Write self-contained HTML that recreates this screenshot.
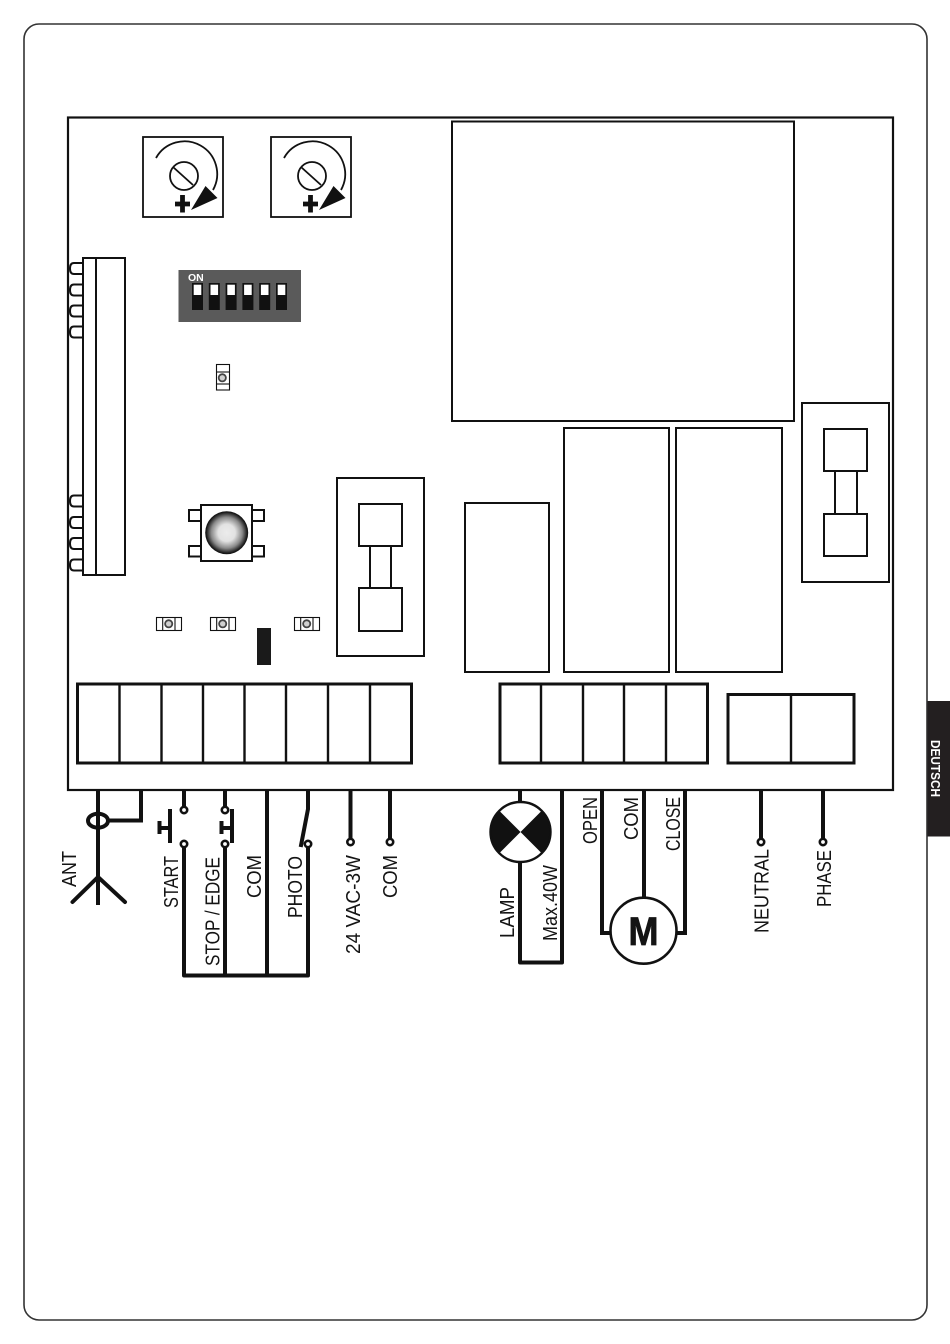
<!DOCTYPE html>
<html>
<head>
<meta charset="utf-8">
<style>
html,body{margin:0;padding:0;background:#fff;width:950px;height:1344px;overflow:hidden}
svg{display:block}
text{font-family:"Liberation Sans",sans-serif;fill:#141414}
</style>
</head>
<body>
<svg width="950" height="1344" viewBox="0 0 950 1344" xmlns="http://www.w3.org/2000/svg">
<defs>
<radialGradient id="btn" cx="50%" cy="50%" r="50%">
<stop offset="0" stop-color="#ececec"/>
<stop offset="0.4" stop-color="#e2e2e2"/>
<stop offset="0.72" stop-color="#8a8a8a"/>
<stop offset="0.95" stop-color="#1a1a1a"/>
<stop offset="1" stop-color="#111"/>
</radialGradient>
<g id="pot">
<rect x="143" y="137" width="80" height="80" fill="#fff" stroke="#111" stroke-width="1.800"/>
<circle cx="184" cy="176" r="14" fill="none" stroke="#111" stroke-width="1.800"/>
<line x1="173" y1="167" x2="193" y2="185" stroke="#111" stroke-width="1.800"/>
<path d="M156 158 A31 31 0 0 1 213 190" fill="none" stroke="#111" stroke-width="1.800"/>
<polygon points="191,210 205.500,186 217.500,198" fill="#111"/>
<path d="M182.500 195V212.500M175 204H190" stroke="#111" stroke-width="4.800" fill="none"/>
</g>
<g id="smallh" fill="none" stroke="#111" stroke-width="1.100">
<rect x="156.500" y="617.500" width="25" height="13" fill="#fff"/>
<line x1="162.700" y1="617.500" x2="162.700" y2="630.500"/>
<line x1="175" y1="617.500" x2="175" y2="630.500"/>
<circle cx="168.700" cy="623.800" r="3.600" fill="#d0d0d0" stroke="#444" stroke-width="1.800"/>
</g>
<g id="sw">
<rect x="192" y="283" width="11" height="27" fill="#111"/>
<rect x="193.700" y="284.700" width="7.600" height="10.300" fill="#fff"/>
</g>
<g id="loop">
<path d="M83 0H74Q70 0 70 5.500Q70 11 74 11H83" fill="#fff" stroke="#111" stroke-width="2"/>
</g>
</defs>

<!-- page frame -->
<rect x="24" y="24" width="903" height="1296" rx="15" ry="15" fill="#fff" stroke="#333" stroke-width="1.600"/>

<!-- side tab -->
<rect x="927.500" y="701" width="22.500" height="135.500" fill="#231f20"/>
<text transform="translate(931,740) rotate(90)" font-size="12.500" font-weight="bold" style="fill:#fff" textLength="57" lengthAdjust="spacingAndGlyphs">DEUTSCH</text>

<!-- board -->
<rect x="68" y="117.500" width="825" height="672.500" fill="#fff" stroke="#111" stroke-width="2.200"/>

<use href="#pot"/>
<use href="#pot" x="128"/>

<!-- dip switch -->
<rect x="178.500" y="270" width="122.500" height="52" fill="#5a5a5a"/>
<text x="188" y="281" font-size="10.500" font-weight="bold" style="fill:#fff">ON</text>
<use href="#sw"/>
<use href="#sw" x="16.800"/>
<use href="#sw" x="33.600"/>
<use href="#sw" x="50.400"/>
<use href="#sw" x="67.200"/>
<use href="#sw" x="84"/>

<!-- vertical small component -->
<g fill="none" stroke="#111" stroke-width="1.100">
<rect x="216.500" y="364.500" width="13" height="25.500" fill="#fff"/>
<line x1="216.500" y1="372" x2="229.500" y2="372"/>
<line x1="216.500" y1="384" x2="229.500" y2="384"/>
<circle cx="222.300" cy="377.800" r="3.600" fill="#d0d0d0" stroke="#444" stroke-width="1.800"/>
</g>

<!-- left connector -->
<use href="#loop" y="263"/>
<use href="#loop" y="284.500"/>
<use href="#loop" y="305.500"/>
<use href="#loop" y="326.500"/>
<use href="#loop" y="495.500"/>
<use href="#loop" y="517"/>
<use href="#loop" y="538"/>
<use href="#loop" y="559.500"/>
<rect x="83" y="258" width="42" height="317" fill="#fff" stroke="#111" stroke-width="2"/>
<line x1="96" y1="258" x2="96" y2="575" stroke="#111" stroke-width="2"/>

<!-- relays -->
<g fill="#fff" stroke="#111" stroke-width="2">
<rect x="452" y="121.500" width="342" height="299.500"/>
<rect x="564" y="428" width="105" height="244"/>
<rect x="676" y="428" width="106" height="244"/>
<rect x="465" y="503" width="84" height="169"/>
<!-- right fuse -->
<rect x="802" y="403" width="87" height="179"/>
<rect x="835" y="471" width="22" height="43"/>
<rect x="824" y="429" width="43" height="42"/>
<rect x="824" y="514" width="43" height="42"/>
<!-- left fuse -->
<rect x="337" y="478" width="87" height="178"/>
<rect x="370" y="546" width="21" height="42"/>
<rect x="359" y="504" width="43" height="42"/>
<rect x="359" y="588" width="43" height="43"/>
<!-- push button -->
<rect x="189" y="510" width="12" height="11"/>
<rect x="189" y="546" width="12" height="10.500"/>
<rect x="252" y="510" width="12" height="11"/>
<rect x="252" y="546" width="12" height="10.500"/>
<rect x="201" y="505" width="51" height="56"/>
</g>
<circle cx="226.700" cy="532.700" r="21.500" fill="url(#btn)"/>

<use href="#smallh"/>
<use href="#smallh" x="54"/>
<use href="#smallh" x="138"/>
<rect x="257" y="628" width="14" height="37" fill="#1a1a1a"/>

<!-- terminal blocks -->
<g fill="#fff" stroke="#111" stroke-width="3">
<rect x="77.500" y="684" width="334" height="79"/>
<rect x="500" y="684" width="207.500" height="79"/>
<rect x="728" y="694.500" width="126" height="68.500"/>
</g>
<g stroke="#111" stroke-width="2.400">
<path d="M119.500 684V763M161.500 684V763M203 684V763M244.500 684V763M286 684V763M328 684V763M370 684V763"/>
<path d="M541 684V763M583 684V763M624 684V763M666 684V763"/>
<path d="M791 694V763"/>
</g>

<!-- wiring left -->
<g fill="none" stroke="#111" stroke-width="4">
<line x1="98" y1="790" x2="98" y2="905"/>
<path d="M141 790V820.500H108"/>
<path d="M98 877L72.500 902M98 877L125 902" stroke-linecap="round"/>
<line x1="184" y1="790" x2="184" y2="806"/>
<line x1="225" y1="790" x2="225" y2="806"/>
<path d="M184 848V975.500H308V848" stroke-linejoin="round"/>
<line x1="225" y1="848" x2="225" y2="975"/>
<line x1="267" y1="790" x2="267" y2="975"/>
<path d="M308 790L308 809L300.700 847"/>
<line x1="350.500" y1="790" x2="350.500" y2="838"/>
<line x1="390" y1="790" x2="390" y2="838"/>
<path d="M170 809V843M159 828H170"/>
<path d="M232 809V843M221 828H232"/>
<path d="M159.500 821V834M221.500 821V834"/>
</g>
<ellipse cx="98" cy="820.700" rx="10" ry="7" fill="none" stroke="#111" stroke-width="4"/>
<g fill="#fff" stroke="#111" stroke-width="2.600">
<circle cx="184" cy="810" r="3.200"/>
<circle cx="184" cy="844" r="3.200"/>
<circle cx="225" cy="810" r="3.200"/>
<circle cx="225" cy="844" r="3.200"/>
<circle cx="308" cy="844" r="3.200"/>
<circle cx="350.500" cy="842" r="3.200"/>
<circle cx="390" cy="842" r="3.200"/>
<circle cx="761" cy="842" r="3.200"/>
<circle cx="823" cy="842" r="3.200"/>
</g>

<!-- wiring right -->
<g fill="none" stroke="#111" stroke-width="4">
<path d="M520 790V962.500H562V790" stroke-linejoin="round"/>
<path d="M602 790V933H611"/>
<line x1="644" y1="790" x2="644" y2="898"/>
<path d="M685 790V933H676"/>
<line x1="761" y1="790" x2="761" y2="838"/>
<line x1="823" y1="790" x2="823" y2="838"/>
</g>

<!-- lamp -->
<circle cx="520.500" cy="832" r="30" fill="#fff"/>
<path d="M520.500 832L499.300 810.800A30 30 0 0 0 499.300 853.200Z" fill="#111"/>
<path d="M520.500 832L541.700 810.800A30 30 0 0 1 541.700 853.200Z" fill="#111"/>
<circle cx="520.500" cy="832" r="30" fill="none" stroke="#111" stroke-width="2.400"/>

<!-- motor -->
<circle cx="643.500" cy="930.700" r="33" fill="#fff" stroke="#111" stroke-width="2.600"/>
<text x="643.500" y="945" font-size="40" font-weight="bold" text-anchor="middle" textLength="30" lengthAdjust="spacingAndGlyphs" stroke="#141414" stroke-width="0.800">M</text>

<!-- labels -->
<g font-size="20">
<text transform="translate(76,887) rotate(-90)" textLength="36" lengthAdjust="spacingAndGlyphs">ANT</text>
<text transform="translate(178,908) rotate(-90)" textLength="52" lengthAdjust="spacingAndGlyphs">START</text>
<text transform="translate(219.500,966) rotate(-90)" textLength="109" lengthAdjust="spacingAndGlyphs">STOP / EDGE</text>
<text transform="translate(261,898) rotate(-90)" textLength="43" lengthAdjust="spacingAndGlyphs">COM</text>
<text transform="translate(302,918) rotate(-90)" textLength="62" lengthAdjust="spacingAndGlyphs">PHOTO</text>
<text transform="translate(360,954) rotate(-90)" textLength="99" lengthAdjust="spacingAndGlyphs">24 VAC-3W</text>
<text transform="translate(397,898) rotate(-90)" textLength="43" lengthAdjust="spacingAndGlyphs">COM</text>
<text transform="translate(514,938) rotate(-90)" textLength="51" lengthAdjust="spacingAndGlyphs">LAMP</text>
<text transform="translate(557,941) rotate(-90)" textLength="76" lengthAdjust="spacingAndGlyphs">Max.40W</text>
<text transform="translate(597,844) rotate(-90)" textLength="47" lengthAdjust="spacingAndGlyphs">OPEN</text>
<text transform="translate(638,840) rotate(-90)" textLength="43" lengthAdjust="spacingAndGlyphs">COM</text>
<text transform="translate(680,851) rotate(-90)" textLength="54" lengthAdjust="spacingAndGlyphs">CLOSE</text>
<text transform="translate(768.500,933) rotate(-90)" textLength="84" lengthAdjust="spacingAndGlyphs">NEUTRAL</text>
<text transform="translate(831,907) rotate(-90)" textLength="57" lengthAdjust="spacingAndGlyphs">PHASE</text>
</g>
</svg>
</body>
</html>
